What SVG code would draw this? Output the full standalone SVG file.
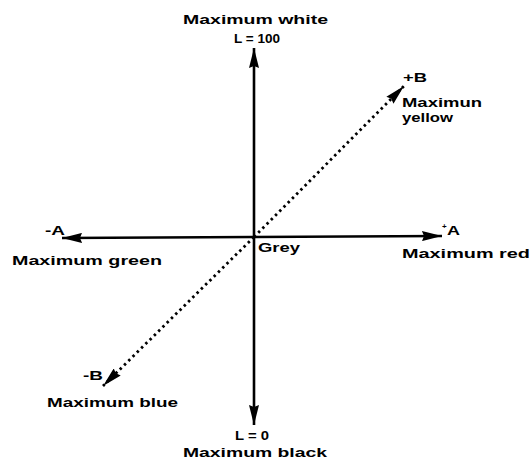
<svg xmlns="http://www.w3.org/2000/svg" width="531" height="459" viewBox="0 0 531 459">
<defs>
<marker id="ah" viewBox="0 0 20 10" refX="20" refY="5" markerWidth="20" markerHeight="10" markerUnits="userSpaceOnUse" orient="auto">
<path d="M0,0 L20,5 L0,10 L2,5 Z" fill="#000"/>
</marker>
</defs>
<style>
.lbl{font-family:"Liberation Sans",Arial,sans-serif;font-weight:bold;font-size:12px;fill:#000}
.sm{font-family:"Liberation Sans",Arial,sans-serif;font-weight:bold;font-size:12px;fill:#000}
.axis{stroke:#000;stroke-width:2.6;fill:none}
.diag{stroke:#000;stroke-width:2.8;fill:none;stroke-dasharray:2.5 3.5}
</style>
<rect width="531" height="459" fill="#fff"/>
<g id="connectors">
<line class="axis" x1="254" y1="237" x2="254" y2="48" marker-end="url(#ah)"/>
<line class="axis" x1="254" y1="237" x2="254" y2="425" marker-end="url(#ah)"/>
<line class="axis" x1="254" y1="237" x2="442" y2="236" marker-end="url(#ah)"/>
<line class="axis" x1="254" y1="237" x2="62" y2="238" marker-end="url(#ah)"/>
<line class="diag" x1="254" y1="237" x2="404" y2="86" marker-end="url(#ah)"/>
<line class="diag" x1="254" y1="237" x2="103" y2="386" marker-end="url(#ah)"/>
</g>
<g id="white">
<text class="lbl" x="183" y="24" textLength="145" lengthAdjust="spacingAndGlyphs">Maximum white</text>
<text class="sm" x="234" y="43" textLength="46" lengthAdjust="spacingAndGlyphs">L = 100</text>
</g>
<g id="black">
<text class="sm" x="235" y="440" textLength="34" lengthAdjust="spacingAndGlyphs">L = 0</text>
<text class="lbl" x="183" y="457" textLength="144" lengthAdjust="spacingAndGlyphs">Maximum black</text>
</g>
<g id="green">
<text class="sm" x="45" y="235" textLength="20" lengthAdjust="spacingAndGlyphs">-A</text>
<text class="lbl" x="12" y="265" textLength="150" lengthAdjust="spacingAndGlyphs">Maximum green</text>
</g>
<g id="red">
<text class="sm" x="442" y="229" style="font-size:8px">+</text>
<text class="sm" x="447" y="235" textLength="13" lengthAdjust="spacingAndGlyphs">A</text>
<text class="lbl" x="402" y="258" textLength="128" lengthAdjust="spacingAndGlyphs">Maximum red</text>
</g>
<g id="grey">
<text class="lbl" x="258" y="252" textLength="42" lengthAdjust="spacingAndGlyphs">Grey</text>
</g>
<g id="yellow">
<text class="sm" x="403" y="82" textLength="24" lengthAdjust="spacingAndGlyphs">+B</text>
<text class="lbl" x="402" y="107" textLength="80" lengthAdjust="spacingAndGlyphs">Maximun</text>
<text class="lbl" x="402" y="122" textLength="51" lengthAdjust="spacingAndGlyphs">yellow</text>
</g>
<g id="blue">
<text class="sm" x="83" y="380" textLength="20" lengthAdjust="spacingAndGlyphs">-B</text>
<text class="lbl" x="47" y="407" textLength="131" lengthAdjust="spacingAndGlyphs">Maximum blue</text>
</g>
</svg>
